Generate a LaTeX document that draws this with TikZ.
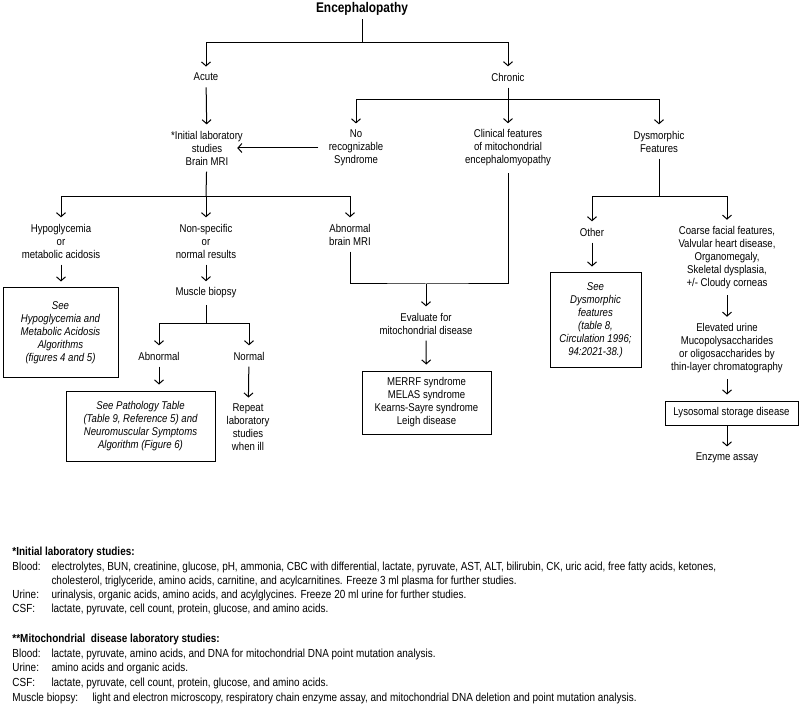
\documentclass[tikz,border=0pt]{standalone}
\usepackage{fontspec}
\setmainfont{Liberation Sans}[FakeStretch=0.85]
\usetikzlibrary{arrows.meta}
\newcommand\flowfont{\fontsize{11.3}{13}\selectfont}
\newcommand\notefont{\fontsize{11.7}{14}\selectfont}
\tikzset{
  >={Straight Barb[length=4pt,width=9pt]},
  lbl/.style={align=center,font=\flowfont,inner xsep=2pt,inner ysep=6pt},
  boxed/.style={draw,align=center,font=\flowfont\itshape,inner sep=0pt},
  note/.style={font=\notefont,inner sep=0pt,anchor=base west},
}
\begin{document}
\begin{tikzpicture}[x=1pt,y=-1pt,line width=1pt]
   \useasboundingbox (0,0) rectangle (800,708);
   \node[font=\fontsize{14}{16}\selectfont\bfseries,inner sep=3pt] (enc) at (362,9) {Encephalopathy};
   \node[lbl] (acute) at (206,77) {Acute};
   \node[lbl] (chronic) at (508,77) {Chronic};
   \node[lbl] (init) at (207,148) {*Initial laboratory\\studies\\Brain MRI};
   \node[lbl] (norec) at (356,148) {No\\recognizable\\Syndrome};
   \node[lbl] (clin) at (508,148) {Clinical features\\of mitochondrial\\encephalomyopathy};
   \node[lbl] (dysm) at (659,141.5) {Dysmorphic\\Features};
   \node[lbl] (hypo) at (61,241) {Hypoglycemia\\or\\metabolic acidosis};
   \node[lbl] (nonspec) at (206,241) {Non-specific\\or\\normal results};
   \node[lbl] (abmri) at (350,234.5) {Abnormal\\brain MRI};
   \node[boxed,minimum width=115,minimum height=89] (hypobox) at (60.5,332.5)
      {See\\Hypoglycemia and\\Metabolic Acidosis\\Algorithms\\(figures 4 and 5)};
   \node[lbl] (muscle) at (206,293) {Muscle biopsy};
   \node[lbl] (abn) at (159,356) {Abnormal};
   \node[lbl] (norm) at (249,356) {Normal};
   \node[boxed,minimum width=149,minimum height=70] (pathbox) at (140.5,426)
      {See Pathology Table\\(Table 9, Reference 5) and\\Neuromuscular Symptoms\\Algorithm (Figure 6)};
   \node[lbl] (repeat) at (248,427.5) {Repeat\\laboratory\\studies\\when ill};
   \node[lbl] (evalm) at (426,323.5) {Evaluate for\\mitochondrial disease};
   \node[boxed,font=\flowfont,minimum width=129,minimum height=63] (merrf) at (426.5,402.5)
      {MERRF syndrome\\MELAS syndrome\\Kearns-Sayre syndrome\\Leigh disease};
   \node[lbl] (other) at (592,232) {Other};
   \node[boxed,minimum width=91,minimum height=94] (dysmbox) at (595.5,320)
      {See\\Dysmorphic\\features\\(table 8,\\Circulation 1996;\\94:2021-38.)};
   \node[lbl] (coarse) at (727,257.5) {Coarse facial features,\\Valvular heart disease,\\Organomegaly,\\Skeletal dysplasia,\\+/- Cloudy corneas};
   \node[lbl] (elev) at (727,348) {Elevated urine\\Mucopolysaccharides\\or oligosaccharides by\\thin-layer chromatography};
   \node[boxed,font=\flowfont,minimum width=133,minimum height=24] (lyso) at (731.5,413) {Lysosomal storage disease};
   \node[lbl] (enzyme) at (727,458) {Enzyme assay};

   \coordinate (j0) at (362,43);
   \coordinate (j1) at (508,100);
   \coordinate (j2) at (206,197);
   \coordinate (j3) at (206,324);
   \coordinate (j4) at (426,284);
   \coordinate (j5) at (659,197);

   \draw (enc) -- (j0);
   \draw[->] (j0) -| (acute);
   \draw[->] (j0) -| (chronic);
   \draw[->] (acute) -- (init);
   \draw[->] (chronic) -- (clin);
   \draw[->] (j1) -| (norec);
   \draw[->] (j1) -| (dysm);
   \draw[->] ([xshift=-8pt]norec.west) -- ([xshift=-8pt]init.east);
   \draw (init) -- (j2);
   \draw[->] (j2) -| (hypo);
   \draw[->] (j2) -| (nonspec);
   \draw[->] (j2) -| (abmri);
   \draw[->,shorten >=6pt] (hypo) -- (hypo |- hypobox.north);
   \draw[->] (nonspec) -- (muscle);
   \draw (muscle) -- (j3);
   \draw[->] (j3) -| (abn);
   \draw[->] (j3) -| (norm);
   \draw[->,shorten >=6pt] (abn) -- (abn |- pathbox.north);
   \draw[->] (norm) -- (repeat);
   \draw (abmri) |- (j4) -| (clin);
   \draw[->] (j4) -- (evalm);
   \draw[->,shorten >=6pt] (evalm) -- (merrf);
   \draw (dysm) -- (j5);
   \draw[->] (j5) -| (other);
   \draw[->] (j5) -| (coarse);
   \draw[->,shorten >=6pt] (other) -- (other |- dysmbox.north);
   \draw[->] (coarse) -- (elev);
   \draw[->,shorten >=6pt] (elev) -- (elev |- lyso.north);
   \draw[->] (elev |- lyso.south) -- (enzyme);

   \node[note,font=\notefont\bfseries] (labhead) at (12,555) {*Initial laboratory studies:};
   \node[note] (bloodlbl) at (12,570) {Blood:};
   \node[note] (blood1) at (51,570) {electrolytes, BUN, creatinine, glucose, pH, ammonia, CBC with differential, lactate, pyruvate, AST, ALT, bilirubin, CK, uric acid, free fatty acids, ketones,};
   \node[note] (blood2) at (51,584) {cholesterol, triglyceride, amino acids, carnitine, and acylcarnitines. Freeze 3 ml plasma for further studies.};
   \node[note] (urinelbl) at (12,598) {Urine:};
   \node[note] (urine) at (51,598) {urinalysis, organic acids, amino acids, and acylglycines. Freeze 20 ml urine for further studies.};
   \node[note] (csflbl) at (12,612) {CSF:};
   \node[note] (csf) at (51,612) {lactate, pyruvate, cell count, protein, glucose, and amino acids.};
   \node[note,font=\notefont\bfseries] (mitohead) at (12,642) {**Mitochondrial\ \ disease laboratory studies:};
   \node[note] (mbloodlbl) at (12,657) {Blood:};
   \node[note] (mblood) at (51,657) {lactate, pyruvate, amino acids, and DNA for mitochondrial DNA point mutation analysis.};
   \node[note] (murinelbl) at (12,671) {Urine:};
   \node[note] (murine) at (51,671) {amino acids and organic acids.};
   \node[note] (mcsflbl) at (12,686) {CSF:};
   \node[note] (mcsf) at (51,686) {lactate, pyruvate, cell count, protein, glucose, and amino acids.};
   \node[note] (mbiopsylbl) at (12,701) {Muscle biopsy:};
   \node[note] (mbiopsy) at (92,701) {light and electron microscopy, respiratory chain enzyme assay, and mitochondrial DNA deletion and point mutation analysis.};
\end{tikzpicture}
\end{document}
